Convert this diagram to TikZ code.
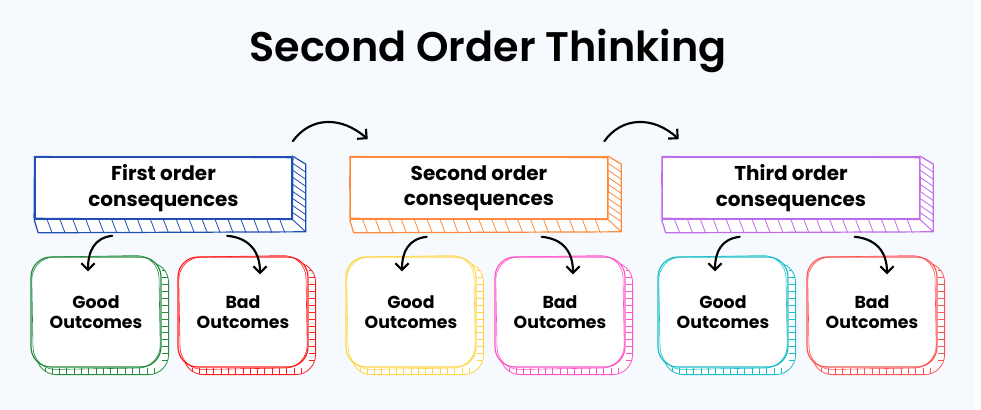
\documentclass[tikz,border=0pt]{standalone}
\usepackage{fontspec}
\setmainfont{Poppins}
\newfontfamily\titlefont{Poppins SemiBold}
\usetikzlibrary{arrows.meta}
\usetikzlibrary{calc}

\definecolor{pagebg}{RGB}{246,250,254}
\definecolor{firstblue}{RGB}{31,79,180}
\definecolor{secondorange}{RGB}{255,138,61}
\definecolor{thirdpurple}{RGB}{191,107,234}
\definecolor{goodgreen}{RGB}{34,139,60}
\definecolor{badred}{RGB}{255,30,30}
\definecolor{goodyellow}{RGB}{255,214,74}
\definecolor{badpink}{RGB}{255,85,200}
\definecolor{goodcyan}{RGB}{28,190,200}
\definecolor{badcoral}{RGB}{255,85,85}

\pgfdeclarelayer{sketch}
\pgfsetlayers{sketch,main}

\tikzset{
  orderbox/.style={draw=#1, line width=1.2pt, fill=white, minimum width=192.75pt, minimum height=46.5pt, inner sep=0pt, align=center, font=\fontsize{15}{19}\selectfont\bfseries},
  outbox/.style={draw=#1, line width=0.9pt, fill=white, rounded corners=15pt, minimum width=97.5pt, minimum height=82.5pt, inner sep=0pt, align=center, font=\fontsize{13}{15.5}\selectfont\bfseries},
  arr/.style={line width=1.6pt, line cap=round, -{Straight Barb[length=5pt,width=10pt]}},
  hatch/.style={line width=0.6pt}
}

% extruded sides of a consequence box, plus a second pencil stroke
\newcommand\ordershade[2]{%
  \begin{pgfonlayer}{sketch}
    \draw[#2, line width=0.9pt, fill=white, line join=round] (#1.north east) -- ++(13,8) -- ($(#1.south east)+(13,12)$) -- ($(#1.south west)+(4,13)$) -- (#1.south west) -- cycle;
    \draw[#2, line width=0.7pt] (#1.south east) -- ++(13,12);
    \foreach \i in {1,...,19} \draw[#2,hatch] ($(#1.south west)!\i/20!(#1.south east)$) -- ++(5,13);
    \foreach \j in {1,...,8} \draw[#2,hatch] ($(#1.north east)!\j/9!(#1.south east)$) -- ++(13,9);
  \end{pgfonlayer}
  \draw[#2, line width=0.45pt, rotate around={0.4:(#1.center)}] (#1.north west) rectangle (#1.south east);}

% extruded sides of an outcome box, plus a second pencil stroke
\newcommand\outshade[2]{%
  \begin{pgfonlayer}{sketch}
    \draw[#2, line width=0.6pt, fill=white, rounded corners=15pt] ($(#1.north west)+(6,6)$) rectangle ($(#1.south east)+(7,7)$);
    \begin{scope}
      \clip[rounded corners=15pt] ($(#1.north west)+(6,6)$) rectangle ($(#1.south east)+(7,7)$);
      \foreach \k in {1,...,15} \draw[#2,hatch] ($(#1.north east)!\k/16!(#1.south east)$) -- ++(10,0);
      \foreach \k in {1,...,17} \draw[#2,hatch] ($(#1.south west)!\k/18!(#1.south east)$) -- ++(0,10);
    \end{scope}
  \end{pgfonlayer}
  \draw[#2, line width=0.45pt, rounded corners=17pt, rotate around={-1:(#1.center)}] ($(#1.north west)+(1,1)$) rectangle ($(#1.south east)+(-1,0)$);}

\begin{document}
\begin{tikzpicture}[x=0.75pt,y=0.75pt,yscale=-1,xscale=1]
\useasboundingbox (0,0) rectangle (981,410);
\begin{pgfonlayer}{sketch}
  \fill[pagebg] (0,0) rectangle (975,410);
\end{pgfonlayer}

% Title
\node (title) at (488,51) {\titlefont\fontsize{31}{37}\selectfont Second Order Thinking};

% Consequence boxes
\node[orderbox=firstblue] (first) at (163.5,188) {First order\\consequences};
\node[orderbox=secondorange] (second) at (479,188) {Second order\\consequences};
\node[orderbox=thirdpurple] (third) at (791,188) {Third order\\consequences};
\ordershade{first}{firstblue}
\ordershade{second}{secondorange}
\ordershade{third}{thirdpurple}

% Outcome boxes
\node[outbox=goodgreen] (good1) at (96,312) {Good\\Outcomes};
\node[outbox=badred] (bad1) at (243,312) {Bad\\Outcomes};
\node[outbox=goodyellow] (good2) at (411,312) {Good\\Outcomes};
\node[outbox=badpink] (bad2) at (560,312) {Bad\\Outcomes};
\node[outbox=goodcyan] (good3) at (723,312) {Good\\Outcomes};
\node[outbox=badcoral] (bad3) at (872,312) {Bad\\Outcomes};
\outshade{good1}{goodgreen}
\outshade{bad1}{badred}
\outshade{good2}{goodyellow}
\outshade{bad2}{badpink}
\outshade{good3}{goodcyan}
\outshade{bad3}{badcoral}

% Arrows between orders
\draw[arr] ($(first.north east)+(0,-15)$) .. controls ($(first.north east)+(18,-40)$) and ($(second.north west)+(-8,-40)$) .. ($(second.north west)+(18,-17)$);
\draw[arr] ($(second.north east)+(-4,-15)$) .. controls ($(second.north east)+(14,-40)$) and ($(third.north west)+(-8,-40)$) .. ($(third.north west)+(17,-17)$);

% Arrows to outcomes
\draw[arr] ($(first.south west)+(78,16)$) .. controls ($(first.south west)+(60,18)$) and ($(good1.north)+(-8,-5)$) .. ($(good1.north)+(-8,15)$);
\draw[arr] ($(first.south west)+(193,16)$) .. controls ($(first.south west)+(215,18)$) and ($(bad1.north)+(17,-5)$) .. ($(bad1.north)+(17,18)$);
\draw[arr] ($(second.south west)+(77,17)$) .. controls ($(second.south west)+(59,19)$) and ($(good2.north)+(-9,-5)$) .. ($(good2.north)+(-9,15)$);
\draw[arr] ($(second.south west)+(192,17)$) .. controls ($(second.south west)+(213,19)$) and ($(bad2.north)+(13,-5)$) .. ($(bad2.north)+(13,18)$);
\draw[arr] ($(third.south west)+(78,17)$) .. controls ($(third.south west)+(60,19)$) and ($(good3.north)+(-8,-5)$) .. ($(good3.north)+(-8,15)$);
\draw[arr] ($(third.south west)+(193,17)$) .. controls ($(third.south west)+(214,19)$) and ($(bad3.north)+(15,-5)$) .. ($(bad3.north)+(15,18)$);

\end{tikzpicture}
\end{document}
